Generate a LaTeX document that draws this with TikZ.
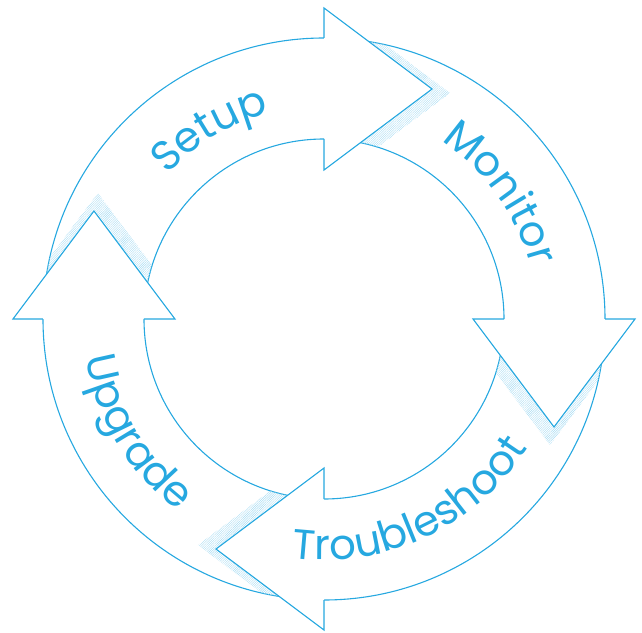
\documentclass[tikz,border=0pt]{standalone}
\usepackage{fontspec}
\newfontfamily\ringfont{Poppins}
\usetikzlibrary{decorations.text, patterns.meta}
\definecolor{ringblue}{RGB}{38,168,224}
\newcommand\ringlabel{\ringfont\fontsize{42}{50}\selectfont}

\begin{document}
\begin{tikzpicture}[
        x=1pt, y=1pt,
        ring/.style={draw=ringblue, line width=1.1pt},
        head_line/.style={draw=ringblue, line width=1.1pt, line join=miter},
        hatch/.style={pattern={Lines[angle=45, distance=1.6pt, line width=0.4pt]}, pattern color=ringblue!40},
        curved_label/.style={decorate, decoration={text along path, text={|\ringlabel|#1}, text align=center, text color=ringblue}}
    ]
    \useasboundingbox (-324,-313) rectangle (318,319);

    % Ring
    \draw[ring] (0,0) circle (281);
    \draw[ring] (0,0) circle (180);

    % Shadows behind the heads
    \begin{scope}[even odd rule]
        \clip (0,0) circle (281) (0,0) circle (180);
        \fill[hatch, rotate=0] (18,145) -- (126,226) -- (18,307) -- cycle;
        \fill[hatch, rotate=-90] (18,145) -- (126,226) -- (18,307) -- cycle;
        \fill[hatch, rotate=180] (18,145) -- (126,226) -- (18,307) -- cycle;
        \fill[hatch, rotate=90] (18,145) -- (126,226) -- (18,307) -- cycle;
    \end{scope}

    % Setup -> Monitor
    \begin{scope}[rotate=0]
        \fill[white] (0,149) -- (108,230) -- (0,311) -- cycle;
        \draw[head_line] (0,180) -- (0,149) -- (108,230) -- (0,311) -- (0,281);
    \end{scope}
    % Monitor -> Troubleshoot
    \begin{scope}[rotate=-90]
        \fill[white] (0,149) -- (108,230) -- (0,311) -- cycle;
        \draw[head_line] (0,180) -- (0,149) -- (108,230) -- (0,311) -- (0,281);
    \end{scope}
    % Troubleshoot -> Upgrade
    \begin{scope}[rotate=180]
        \fill[white] (0,149) -- (108,230) -- (0,311) -- cycle;
        \draw[head_line] (0,180) -- (0,149) -- (108,230) -- (0,311) -- (0,281);
    \end{scope}
    % Upgrade -> Setup
    \begin{scope}[rotate=90]
        \fill[white] (0,149) -- (108,230) -- (0,311) -- cycle;
        \draw[head_line] (0,180) -- (0,149) -- (108,230) -- (0,311) -- (0,281);
    \end{scope}

    % Labels
    \path[curved_label=Setup] (171:213) arc[start angle=171, end angle=71, radius=213];
    \path[curved_label=Monitor] (85.5:213) arc[start angle=85.5, end angle=-14.5, radius=213];
    \path[curved_label=Troubleshoot] (-115:241) arc[start angle=-115, end angle=-15, radius=241];
    \path[curved_label=Upgrade] (161:241) arc[start angle=161, end angle=261, radius=241];

\end{tikzpicture}
\end{document}
